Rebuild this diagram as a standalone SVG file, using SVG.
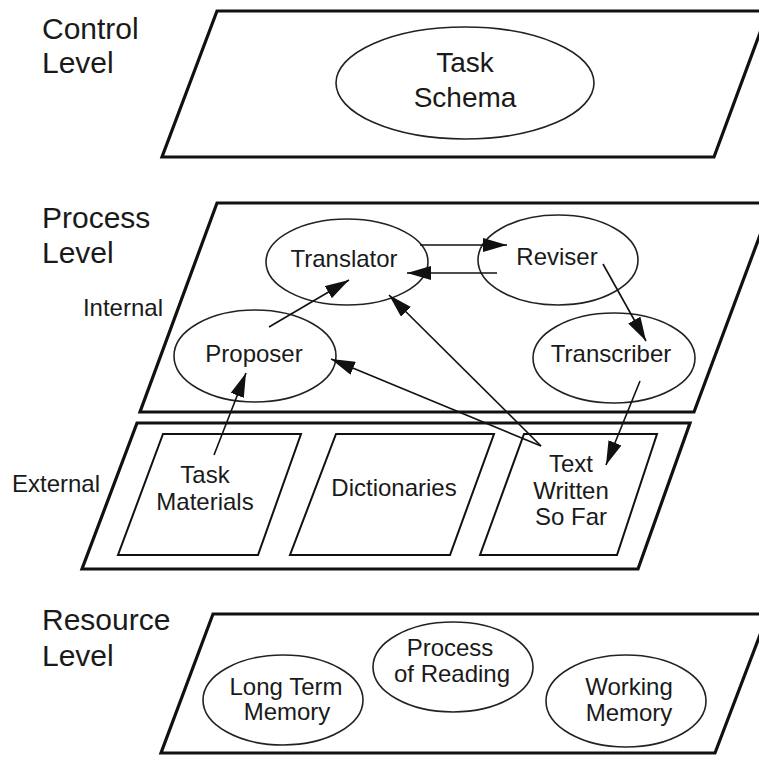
<svg xmlns="http://www.w3.org/2000/svg" width="759" height="758" viewBox="0 0 759 758">
<style>
  .lvl { fill: #fff; stroke: #111; stroke-width: 3.2; stroke-linejoin: miter; }
  .box { fill: #fff; stroke: #111; stroke-width: 2; }
  .node { fill: #fff; stroke: #222; stroke-width: 1.6; }
  .t { font-family: "Liberation Sans", Arial, sans-serif; fill: #1a1a1a; }
  .big { font-size: 30px; }
  .mid { font-size: 24px; }
  .sch { font-size: 28px; }
  .c { text-anchor: middle; }
  .conn line { stroke: #111; stroke-width: 1.6; marker-end: url(#ah); }
</style>
<defs>
  <marker id="ah" viewBox="0 0 24 14" refX="24" refY="7" markerWidth="24" markerHeight="14" markerUnits="userSpaceOnUse" orient="auto">
    <path d="M0,0 L24,7 L0,14 z" fill="#111"/>
  </marker>
</defs>
<rect width="759" height="758" fill="#fff"/>

<!-- Level labels -->
<g id="labels">
  <text class="t big" x="42" y="39">Control</text>
  <text class="t big" x="42" y="73">Level</text>
  <text class="t big" x="42" y="228">Process</text>
  <text class="t big" x="42" y="263">Level</text>
  <text class="t mid" x="163" y="316" text-anchor="end">Internal</text>
  <text class="t mid" x="100" y="492" text-anchor="end">External</text>
  <text class="t big" x="42" y="630">Resource</text>
  <text class="t big" x="42" y="666">Level</text>
</g>

<!-- Control level -->
<g id="control-level">
  <polygon class="lvl" points="217,11 768,11 714,157 162,157"/>
</g>
<g id="task-schema">
  <ellipse class="node" cx="465" cy="83" rx="129" ry="56"/>
  <text class="t sch c" x="465" y="72">Task</text>
  <text class="t sch c" x="465" y="107">Schema</text>
</g>

<!-- Process level -->
<g id="process-level">
  <polygon class="lvl" points="217,203 772,203 694,412 140,412"/>
</g>
<g id="translator">
  <ellipse class="node" cx="347" cy="262" rx="81" ry="43"/>
  <text class="t mid c" x="344" y="267">Translator</text>
</g>
<g id="reviser">
  <ellipse class="node" cx="558" cy="260" rx="80" ry="45"/>
  <text class="t mid c" x="557" y="265">Reviser</text>
</g>
<g id="proposer">
  <ellipse class="node" cx="255" cy="356" rx="81" ry="46"/>
  <text class="t mid c" x="254" y="362">Proposer</text>
</g>
<g id="transcriber">
  <ellipse class="node" cx="614" cy="358" rx="81" ry="45"/>
  <text class="t mid c" x="611" y="362">Transcriber</text>
</g>

<!-- External -->
<g id="external-level">
  <polygon class="lvl" points="137,423 690,423 638,569 82,569"/>
</g>
<g id="task-materials">
  <polygon class="box" points="163,434 301,434 258,555 118,555"/>
  <text class="t mid c" x="205" y="483">Task</text>
  <text class="t mid c" x="205" y="510">Materials</text>
</g>
<g id="dictionaries">
  <polygon class="box" points="336,434 494,434 450,555 290,555"/>
  <text class="t mid c" x="394" y="496">Dictionaries</text>
</g>
<g id="text-written">
  <polygon class="box" points="524,434 657,434 617,555 480,555"/>
  <text class="t mid c" x="571" y="472">Text</text>
  <text class="t mid c" x="571" y="499">Written</text>
  <text class="t mid c" x="571" y="525">So Far</text>
</g>

<!-- Resource level -->
<g id="resource-level">
  <polygon class="lvl" points="213,614 768,614 715,753 161,753"/>
</g>
<g id="long-term-memory">
  <ellipse class="node" cx="283" cy="700" rx="80" ry="45"/>
  <text class="t mid c" x="286" y="695">Long Term</text>
  <text class="t mid c" x="287" y="720">Memory</text>
</g>
<g id="process-of-reading">
  <ellipse class="node" cx="453" cy="667" rx="80" ry="45"/>
  <text class="t mid c" x="450" y="656">Process</text>
  <text class="t mid c" x="452" y="682">of Reading</text>
</g>
<g id="working-memory">
  <ellipse class="node" cx="626" cy="701" rx="80" ry="46"/>
  <text class="t mid c" x="629" y="695">Working</text>
  <text class="t mid c" x="629" y="721">Memory</text>
</g>

<!-- Connectors -->
<g id="connectors" class="conn">
  <line x1="420" y1="245" x2="507" y2="245"/>
  <line x1="497" y1="273" x2="407" y2="273"/>
  <line x1="269" y1="327" x2="349" y2="280"/>
  <line x1="603" y1="264" x2="646" y2="341"/>
  <line x1="214" y1="455" x2="246" y2="373"/>
  <line x1="541" y1="446" x2="331" y2="359"/>
  <line x1="541" y1="446" x2="389" y2="295"/>
  <line x1="640" y1="381" x2="606" y2="465"/>
</g>
</svg>
